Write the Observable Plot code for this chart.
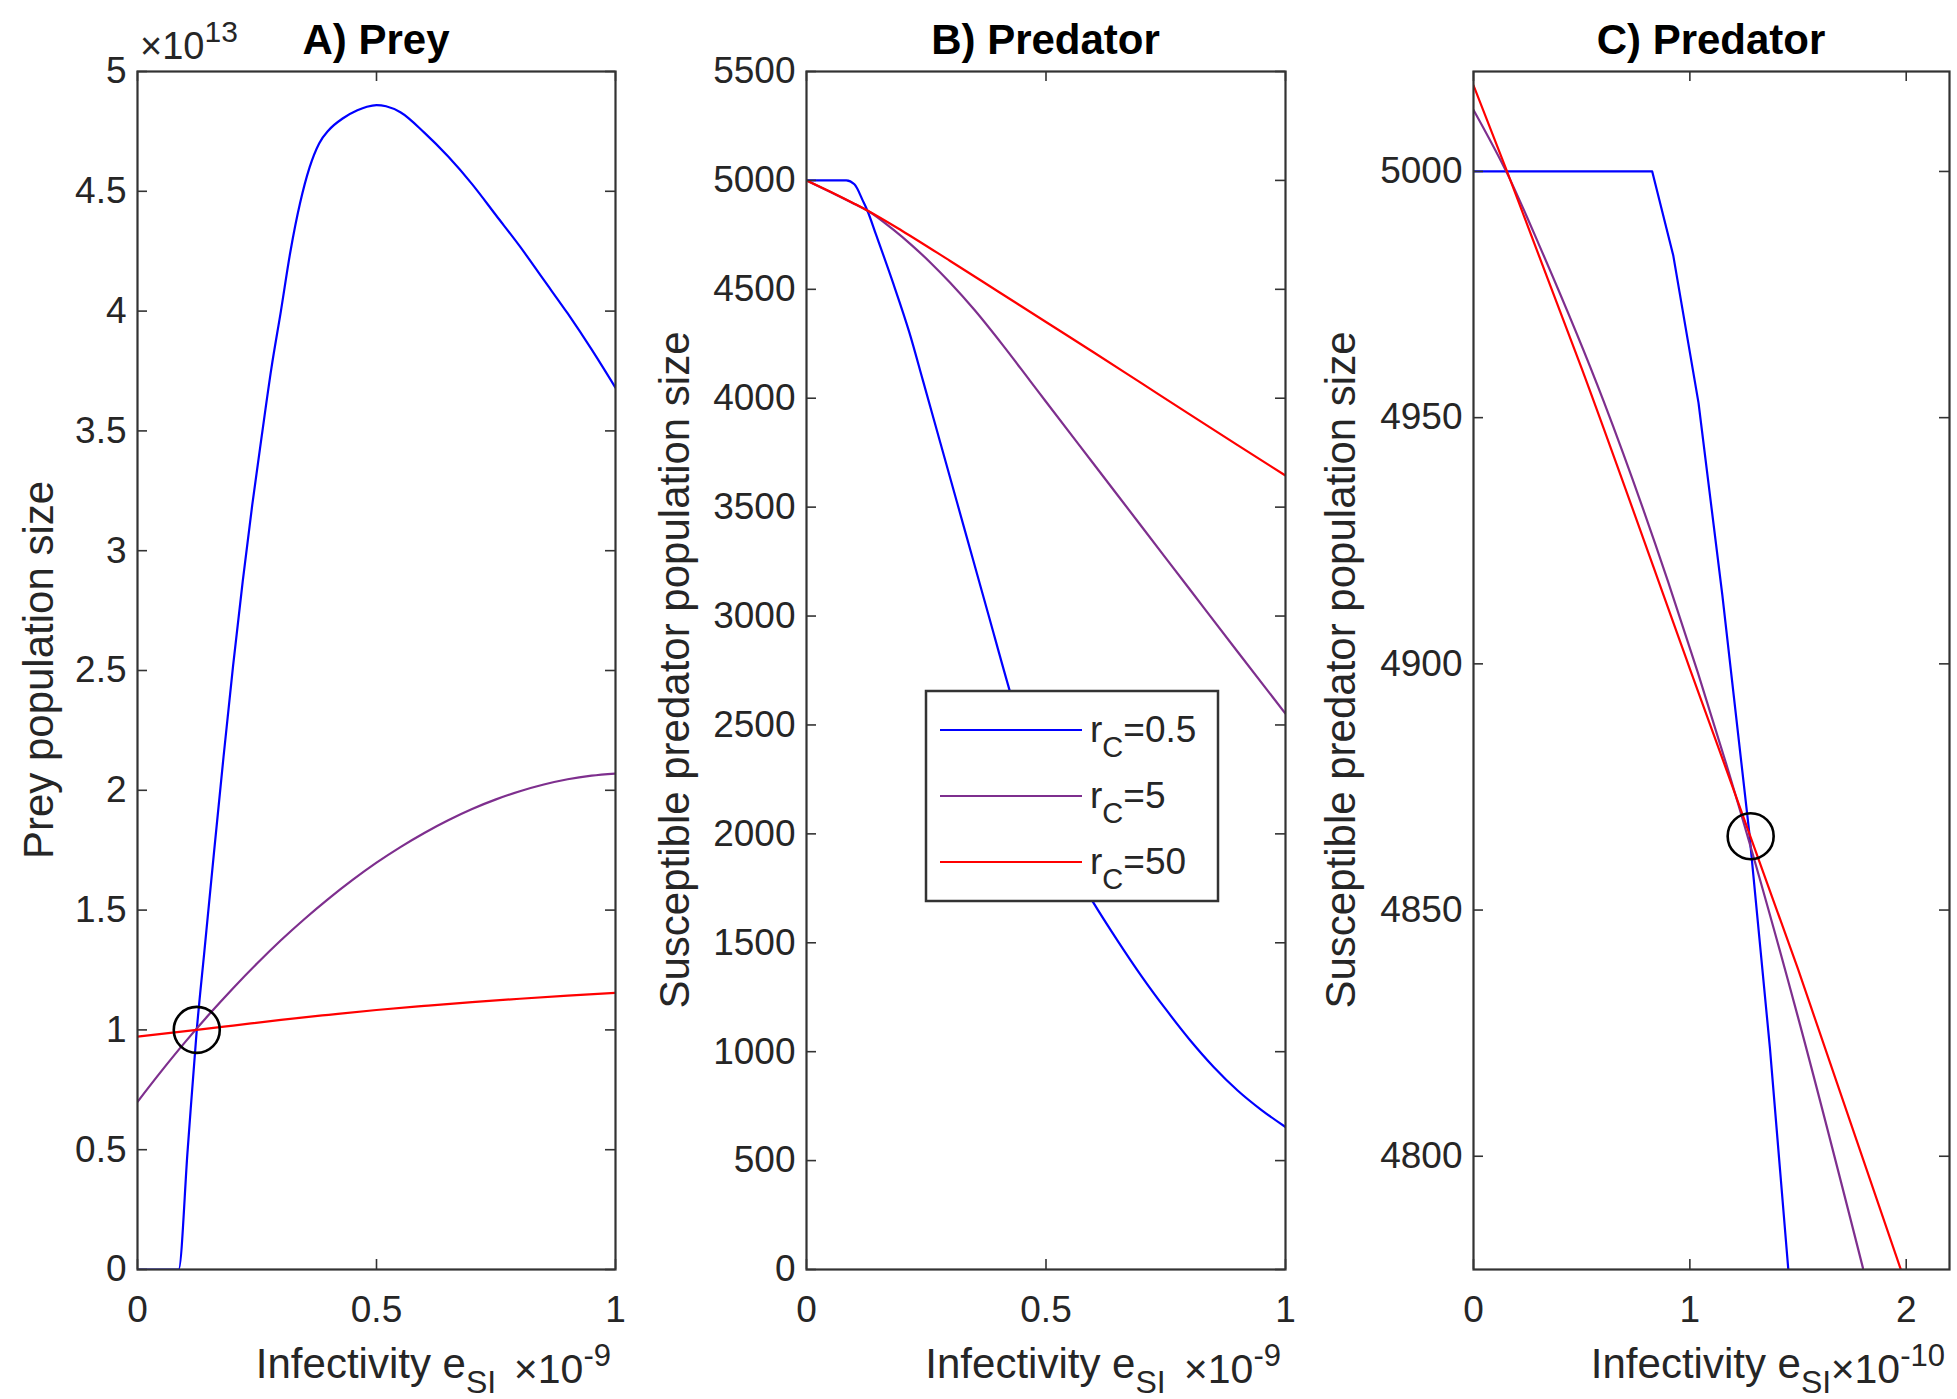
<!DOCTYPE html>
<html>
<head>
<meta charset="utf-8">
<script src="https://cdn.jsdelivr.net/npm/d3@7"></script>
<script src="https://cdn.jsdelivr.net/npm/@observablehq/plot@0.6"></script>
<style>
  html, body { margin: 0; padding: 0; background: #ffffff; }
  #fig { position: relative; width: 1957px; height: 1399px; overflow: hidden; background: #ffffff; }
  #fig svg { position: absolute; top: 0; overflow: visible; }
</style>
</head>
<body>
<div id="fig"></div>
<script>
// ---------------- DATA ----------------
const seriesNames = ["0.5", "5", "50"];
const seriesColors = ["#0000ff", "#7e2f8e", "#ff0000"];

// Panel A: Prey (x in units of 1e-9, y in units of 1e13)
const preyBlueX = [0, 0.086, 0.105, 0.124, 0.14, 0.16, 0.18, 0.20, 0.22, 0.24, 0.26, 0.28, 0.30, 0.32, 0.34, 0.36, 0.38, 0.40, 0.43, 0.46, 0.48, 0.50, 0.52, 0.55, 0.60, 0.65, 0.70, 0.75, 0.80, 0.85, 0.90, 0.95, 1.00];
const preyBlueY = [0, 0, 0.50, 1.00, 1.33, 1.74, 2.14, 2.52, 2.87, 3.19, 3.48, 3.76, 4.00, 4.25, 4.45, 4.60, 4.70, 4.755, 4.805, 4.838, 4.853, 4.86, 4.855, 4.83, 4.745, 4.645, 4.53, 4.40, 4.27, 4.13, 3.99, 3.84, 3.68];
const preyPurpleX = [0, 0.05, 0.10, 0.15, 0.20, 0.25, 0.30, 0.35, 0.40, 0.45, 0.50, 0.55, 0.60, 0.65, 0.70, 0.75, 0.80, 0.85, 0.90, 0.95, 1.00];
const preyPurpleY = [0.70, 0.828, 0.950, 1.065, 1.174, 1.277, 1.374, 1.464, 1.548, 1.626, 1.698, 1.763, 1.822, 1.875, 1.922, 1.962, 1.996, 2.024, 2.046, 2.061, 2.070];
const preyRedX = [0, 0.124, 0.2, 0.3, 0.4, 0.5, 0.6, 0.7, 0.8, 0.9, 1.0];
const preyRedY = [0.972, 1.0, 1.018, 1.042, 1.063, 1.083, 1.100, 1.116, 1.130, 1.143, 1.155];
const preyCircle = [{x: 0.124, y: 1.0}];
const preyXTicks = [0, 0.5, 1];
const preyYTicks = [0, 0.5, 1, 1.5, 2, 2.5, 3, 3.5, 4, 4.5, 5];

// Panel B: Predator (x in units of 1e-9)
const predBBlueX = [0, 0.083, 0.10, 0.118, 0.127, 0.145, 0.18, 0.215, 0.243, 0.28, 0.33, 0.38, 0.424, 0.47, 0.52, 0.56, 0.598, 0.65, 0.70, 0.75, 0.80, 0.85, 0.90, 0.95, 1.00];
const predBBlueY = [5000, 5000, 4982, 4905, 4862, 4752, 4534, 4300, 4082, 3791, 3398, 3005, 2659, 2325, 2025, 1832, 1688, 1508, 1345, 1195, 1055, 930, 822, 732, 654];
const predBPurpleX = [0, 0.05, 0.10, 0.127, 0.18, 0.22, 0.26, 0.30, 0.35, 0.409, 0.466, 0.50, 0.60, 0.70, 0.80, 0.90, 1.00];
const predBPurpleY = [5000, 4947, 4892, 4862, 4776, 4702, 4620, 4530, 4407, 4246, 4082, 3984, 3697, 3410, 3123, 2836, 2552];
const predBRedX = [0, 0.05, 0.1, 0.127, 0.2, 0.3, 0.4, 0.5, 0.6, 0.7, 0.8, 0.9, 1.0];
const predBRedY = [5000, 4948, 4893, 4862, 4768, 4630, 4490, 4350, 4210, 4068, 3926, 3785, 3645];
const predBXTicks = [0, 0.5, 1];
const predBYTicks = [0, 500, 1000, 1500, 2000, 2500, 3000, 3500, 4000, 4500, 5000, 5500];

// Panel C: Predator zoom (x in units of 1e-10)
const predCBlueX = [0, 0.826, 0.923, 1.04, 1.15, 1.274, 1.37, 1.455];
const predCBlueY = [5000, 5000, 4983, 4953, 4914, 4866, 4822, 4777];
const predCPurpleX = [0, 0.16, 0.3, 0.6, 0.9, 1.2, 1.5, 1.8];
const predCPurpleY = [5012.5, 4999.2, 4985.4, 4953.5, 4916.6, 4875.0, 4828.2, 4777.3];
const predCRedX = [0, 0.155, 0.5, 1.0, 1.5, 1.975];
const predCRedY = [5017.5, 5000, 4960, 4899, 4838, 4777];
const predCCircle = [{x: 1.281, y: 4865}];
const predCXTicks = [0, 1, 2];
const predCYTicks = [4800, 4850, 4900, 4950, 5000];

// ---------------- BUILD ----------------
const zip = (xs, ys) => xs.map((x, i) => ({x, y: ys[i]}));
const FONT = '"Liberation Sans", Arial, Helvetica, sans-serif';
const AX = "#333333";
const TXT = "#262626";
const H = 1399, MT = 71, MB = 130;

function makePanel(cfg) {
  const plotW = cfg.width - cfg.ml - cfg.mr;
  const plotH = H - MT - MB;
  const T = 10;
  const fmt = d => String(d);
  const marks = [];
  cfg.series.forEach((s, i) => {
    marks.push(Plot.line(s, {x: "x", y: "y", stroke: seriesColors[i], strokeWidth: 2.2, curve: cfg.curves[i], clip: true}));
  });
  if (cfg.circle) {
    marks.push(Plot.dot(cfg.circle, {x: "x", y: "y", r: 23, stroke: "#000000", strokeWidth: 2.6, fill: "none"}));
  }
  marks.push(
    Plot.tickY(cfg.yTicks, {y: d => d, insetRight: plotW - T, stroke: AX, strokeWidth: 1.6}),
    Plot.tickY(cfg.yTicks, {y: d => d, insetLeft: plotW - T, stroke: AX, strokeWidth: 1.6}),
    Plot.tickX(cfg.xTicks, {x: d => d, insetTop: plotH - T, stroke: AX, strokeWidth: 1.6}),
    Plot.tickX(cfg.xTicks, {x: d => d, insetBottom: plotH - T, stroke: AX, strokeWidth: 1.6}),
    Plot.axisY(cfg.yTicks, {tickSize: 0, tickPadding: 11, fontSize: 37, tickFormat: fmt, label: null}),
    Plot.axisX(cfg.xTicks, {tickSize: 0, tickPadding: 26, fontSize: 37, tickFormat: fmt, label: null}),
    Plot.frame({stroke: AX, strokeWidth: 2.2})
  );
  const svg = Plot.plot({
    width: cfg.width, height: H,
    marginTop: MT, marginBottom: MB, marginLeft: cfg.ml, marginRight: cfg.mr,
    x: {domain: cfg.xDomain, label: null},
    y: {domain: cfg.yDomain, label: null},
    style: {fontFamily: FONT, color: TXT, background: "transparent", overflow: "visible"},
    marks
  });
  svg.style.left = cfg.left + "px";
  document.getElementById("fig").appendChild(svg);

  const sel = d3.select(svg);
  const cx = cfg.ml + plotW / 2;
  const right = cfg.ml + plotW;

  sel.append("text").attr("x", cx).attr("y", 54).attr("text-anchor", "middle")
    .attr("font-family", FONT).attr("font-size", 42).attr("font-weight", "bold").attr("fill", "#000")
    .text(cfg.title);

  sel.append("text").attr("transform", `translate(${cfg.ylabX},${MT + plotH / 2}) rotate(-90)`)
    .attr("text-anchor", "middle").attr("font-family", FONT).attr("font-size", 42).attr("fill", TXT)
    .text(cfg.ylabel);

  const xl = sel.append("text").attr("x", cx).attr("y", 1378).attr("text-anchor", "middle")
    .attr("font-family", FONT).attr("fill", TXT);
  xl.append("tspan").attr("font-size", 42).text("Infectivity e");
  xl.append("tspan").attr("font-size", 32).attr("dy", 15).text("SI");

  const ex = sel.append("text").attr("x", right - 4).attr("y", 1383).attr("text-anchor", "end")
    .attr("font-family", FONT).attr("fill", TXT);
  ex.append("tspan").attr("font-size", 41).text("\u00d710");
  ex.append("tspan").attr("font-size", 31).attr("dy", -17).text(cfg.xExp);

  if (cfg.yExp) {
    const ey = sel.append("text").attr("x", cfg.ml + 3).attr("y", 59).attr("text-anchor", "start")
      .attr("font-family", FONT).attr("fill", TXT);
    ey.append("tspan").attr("font-size", 38).text("\u00d710");
    ey.append("tspan").attr("font-size", 30).attr("dy", -17).text(cfg.yExp);
  }
  return svg;
}

makePanel({
  left: 0, width: 640, ml: 137, mr: 25,
  xDomain: [0, 1], yDomain: [0, 5],
  xTicks: preyXTicks, yTicks: preyYTicks,
  series: [zip(preyBlueX, preyBlueY), zip(preyPurpleX, preyPurpleY), zip(preyRedX, preyRedY)],
  curves: ["monotone-x", "monotone-x", "monotone-x"], circle: preyCircle,
  title: "A) Prey", ylabel: "Prey population size", ylabX: 53, xExp: "-9", yExp: "13"
});

const svgB = makePanel({
  left: 660, width: 640, ml: 146, mr: 15,
  xDomain: [0, 1], yDomain: [0, 5500],
  xTicks: predBXTicks, yTicks: predBYTicks,
  series: [zip(predBBlueX, predBBlueY), zip(predBPurpleX, predBPurpleY), zip(predBRedX, predBRedY)],
  curves: ["monotone-x", "monotone-x", "monotone-x"], circle: null,
  title: "B) Predator", ylabel: "Susceptible predator population size", ylabX: 29, xExp: "-9"
});

makePanel({
  left: 1320, width: 637, ml: 153, mr: 8,
  xDomain: [0, 2.2], yDomain: [4777, 5020.3],
  xTicks: predCXTicks, yTicks: predCYTicks,
  series: [zip(predCBlueX, predCBlueY), zip(predCPurpleX, predCPurpleY), zip(predCRedX, predCRedY)],
  curves: ["linear", "monotone-x", "monotone-x"], circle: predCCircle,
  title: "C) Predator", ylabel: "Susceptible predator population size", ylabX: 35, xExp: "-10"
});

(function legend() {
  const g = d3.select(svgB).append("g");
  g.append("rect").attr("x", 266).attr("y", 691).attr("width", 292).attr("height", 210)
    .attr("fill", "#ffffff").attr("stroke", AX).attr("stroke-width", 2.5);
  seriesNames.forEach((name, i) => {
    const y = 730 + i * 66;
    g.append("line").attr("x1", 280).attr("x2", 422).attr("y1", y).attr("y2", y)
      .attr("stroke", seriesColors[i]).attr("stroke-width", 2.2);
    const t = g.append("text").attr("x", 430).attr("y", y + 12).attr("text-anchor", "start")
      .attr("font-family", FONT).attr("fill", TXT);
    t.append("tspan").attr("font-size", 37).text("r");
    t.append("tspan").attr("font-size", 29).attr("dy", 15).text("C");
    t.append("tspan").attr("font-size", 37).attr("dy", -15).text("=" + name);
  });
})();
</script>
</body>
</html>
